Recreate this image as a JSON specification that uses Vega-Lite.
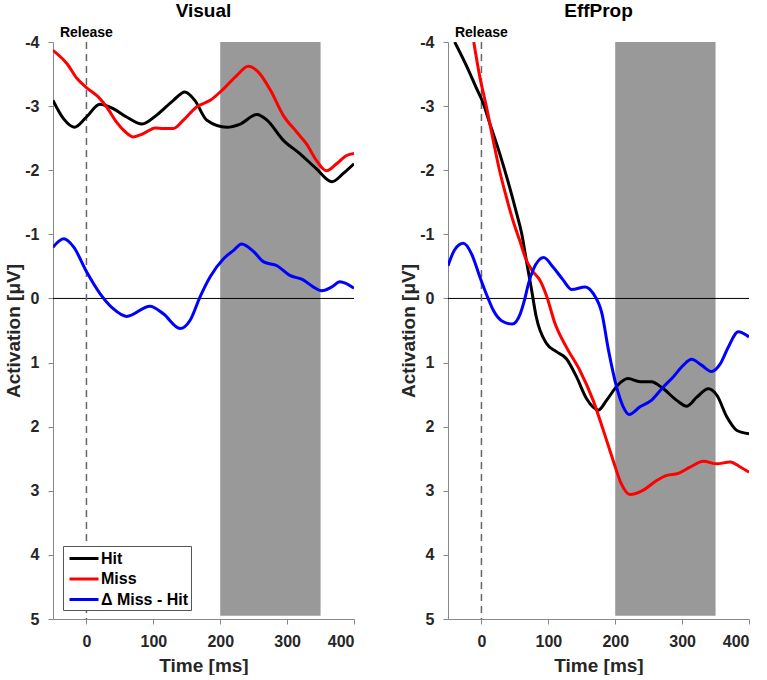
{
  "$schema": "https://vega.github.io/schema/vega-lite/v6.json",
  "background": "white",
  "padding": {"left": 4, "top": 2, "right": 5, "bottom": 0},
  "spacing": 94,
  "bounds": "flush",
  "resolve": {"scale": {"color": "independent"}, "legend": {"color": "independent"}},
  "config": {
    "font": "Liberation Sans",
    "view": {"stroke": null},
    "axis": {
      "labelFont": "Liberation Sans", "labelFontSize": 16, "labelFontWeight": "bold", "labelColor": "#262626",
      "titleFont": "Liberation Sans", "titleFontSize": 19, "titleFontWeight": "bold", "titleColor": "#262626",
      "domainColor": "#888888", "tickColor": "#888888", "tickSize": 5, "grid": false, "labelPadding": 9
    },
    "axisX": {"titlePadding": 7},
    "axisY": {"titlePadding": 1},
    "title": {"font": "Liberation Sans", "fontSize": 19, "fontWeight": "bold", "color": "#000000", "frame": "group", "anchor": "middle", "baseline": "alphabetic", "offset": 5}
  },
  "datasets": {
    "bands": [{"x1": 200, "x2": 350, "y1": -4, "y2": 4.95}],
    "curves": [
      {"panel": "Visual", "series": "Hit", "t": -50, "v": -3.09},
      {"panel": "Visual", "series": "Hit", "t": -34, "v": -2.80},
      {"panel": "Visual", "series": "Hit", "t": -18, "v": -2.67},
      {"panel": "Visual", "series": "Hit", "t": 0, "v": -2.83},
      {"panel": "Visual", "series": "Hit", "t": 20, "v": -3.03},
      {"panel": "Visual", "series": "Hit", "t": 40, "v": -2.96},
      {"panel": "Visual", "series": "Hit", "t": 60, "v": -2.83},
      {"panel": "Visual", "series": "Hit", "t": 83, "v": -2.72},
      {"panel": "Visual", "series": "Hit", "t": 105, "v": -2.86},
      {"panel": "Visual", "series": "Hit", "t": 130, "v": -3.09},
      {"panel": "Visual", "series": "Hit", "t": 147, "v": -3.22},
      {"panel": "Visual", "series": "Hit", "t": 162, "v": -3.09},
      {"panel": "Visual", "series": "Hit", "t": 180, "v": -2.78},
      {"panel": "Visual", "series": "Hit", "t": 210, "v": -2.67},
      {"panel": "Visual", "series": "Hit", "t": 230, "v": -2.72},
      {"panel": "Visual", "series": "Hit", "t": 255, "v": -2.87},
      {"panel": "Visual", "series": "Hit", "t": 270, "v": -2.78},
      {"panel": "Visual", "series": "Hit", "t": 294, "v": -2.47},
      {"panel": "Visual", "series": "Hit", "t": 319, "v": -2.26},
      {"panel": "Visual", "series": "Hit", "t": 344, "v": -2.02},
      {"panel": "Visual", "series": "Hit", "t": 367, "v": -1.82},
      {"panel": "Visual", "series": "Hit", "t": 384, "v": -1.95},
      {"panel": "Visual", "series": "Hit", "t": 400, "v": -2.10},
      {"panel": "Visual", "series": "Miss", "t": -50, "v": -3.87},
      {"panel": "Visual", "series": "Miss", "t": -29, "v": -3.66},
      {"panel": "Visual", "series": "Miss", "t": -14, "v": -3.43},
      {"panel": "Visual", "series": "Miss", "t": 0, "v": -3.29},
      {"panel": "Visual", "series": "Miss", "t": 18, "v": -3.14},
      {"panel": "Visual", "series": "Miss", "t": 30, "v": -2.99},
      {"panel": "Visual", "series": "Miss", "t": 45, "v": -2.75},
      {"panel": "Visual", "series": "Miss", "t": 58, "v": -2.60},
      {"panel": "Visual", "series": "Miss", "t": 70, "v": -2.52},
      {"panel": "Visual", "series": "Miss", "t": 85, "v": -2.57},
      {"panel": "Visual", "series": "Miss", "t": 103, "v": -2.66},
      {"panel": "Visual", "series": "Miss", "t": 115, "v": -2.65},
      {"panel": "Visual", "series": "Miss", "t": 130, "v": -2.65},
      {"panel": "Visual", "series": "Miss", "t": 145, "v": -2.78},
      {"panel": "Visual", "series": "Miss", "t": 165, "v": -2.99},
      {"panel": "Visual", "series": "Miss", "t": 185, "v": -3.09},
      {"panel": "Visual", "series": "Miss", "t": 205, "v": -3.27},
      {"panel": "Visual", "series": "Miss", "t": 225, "v": -3.48},
      {"panel": "Visual", "series": "Miss", "t": 242, "v": -3.62},
      {"panel": "Visual", "series": "Miss", "t": 257, "v": -3.53},
      {"panel": "Visual", "series": "Miss", "t": 275, "v": -3.25},
      {"panel": "Visual", "series": "Miss", "t": 294, "v": -2.86},
      {"panel": "Visual", "series": "Miss", "t": 314, "v": -2.60},
      {"panel": "Visual", "series": "Miss", "t": 329, "v": -2.41},
      {"panel": "Visual", "series": "Miss", "t": 344, "v": -2.15},
      {"panel": "Visual", "series": "Miss", "t": 359, "v": -1.99},
      {"panel": "Visual", "series": "Miss", "t": 374, "v": -2.10},
      {"panel": "Visual", "series": "Miss", "t": 389, "v": -2.23},
      {"panel": "Visual", "series": "Miss", "t": 400, "v": -2.26},
      {"panel": "Visual", "series": "Δ Miss - Hit", "t": -50, "v": -0.80},
      {"panel": "Visual", "series": "Δ Miss - Hit", "t": -34, "v": -0.93},
      {"panel": "Visual", "series": "Δ Miss - Hit", "t": -19, "v": -0.80},
      {"panel": "Visual", "series": "Δ Miss - Hit", "t": 0, "v": -0.42},
      {"panel": "Visual", "series": "Δ Miss - Hit", "t": 20, "v": -0.08},
      {"panel": "Visual", "series": "Δ Miss - Hit", "t": 40, "v": 0.16},
      {"panel": "Visual", "series": "Δ Miss - Hit", "t": 60, "v": 0.28},
      {"panel": "Visual", "series": "Δ Miss - Hit", "t": 95, "v": 0.12},
      {"panel": "Visual", "series": "Δ Miss - Hit", "t": 115, "v": 0.24},
      {"panel": "Visual", "series": "Δ Miss - Hit", "t": 140, "v": 0.47},
      {"panel": "Visual", "series": "Δ Miss - Hit", "t": 155, "v": 0.34},
      {"panel": "Visual", "series": "Δ Miss - Hit", "t": 170, "v": -0.03},
      {"panel": "Visual", "series": "Δ Miss - Hit", "t": 185, "v": -0.34},
      {"panel": "Visual", "series": "Δ Miss - Hit", "t": 205, "v": -0.62},
      {"panel": "Visual", "series": "Δ Miss - Hit", "t": 220, "v": -0.75},
      {"panel": "Visual", "series": "Δ Miss - Hit", "t": 232, "v": -0.85},
      {"panel": "Visual", "series": "Δ Miss - Hit", "t": 250, "v": -0.73},
      {"panel": "Visual", "series": "Δ Miss - Hit", "t": 265, "v": -0.57},
      {"panel": "Visual", "series": "Δ Miss - Hit", "t": 285, "v": -0.51},
      {"panel": "Visual", "series": "Δ Miss - Hit", "t": 304, "v": -0.36},
      {"panel": "Visual", "series": "Δ Miss - Hit", "t": 324, "v": -0.29},
      {"panel": "Visual", "series": "Δ Miss - Hit", "t": 339, "v": -0.18},
      {"panel": "Visual", "series": "Δ Miss - Hit", "t": 352, "v": -0.12},
      {"panel": "Visual", "series": "Δ Miss - Hit", "t": 367, "v": -0.18},
      {"panel": "Visual", "series": "Δ Miss - Hit", "t": 379, "v": -0.26},
      {"panel": "Visual", "series": "Δ Miss - Hit", "t": 400, "v": -0.16},
      {"panel": "EffProp", "series": "Hit", "t": -40, "v": -4.0},
      {"panel": "EffProp", "series": "Hit", "t": -22, "v": -3.62},
      {"panel": "EffProp", "series": "Hit", "t": -7.5, "v": -3.28},
      {"panel": "EffProp", "series": "Hit", "t": 2.5, "v": -3.05},
      {"panel": "EffProp", "series": "Hit", "t": 12.5, "v": -2.73},
      {"panel": "EffProp", "series": "Hit", "t": 27, "v": -2.27},
      {"panel": "EffProp", "series": "Hit", "t": 42, "v": -1.74},
      {"panel": "EffProp", "series": "Hit", "t": 52, "v": -1.35},
      {"panel": "EffProp", "series": "Hit", "t": 60, "v": -1.02},
      {"panel": "EffProp", "series": "Hit", "t": 67, "v": -0.60},
      {"panel": "EffProp", "series": "Hit", "t": 75, "v": -0.13},
      {"panel": "EffProp", "series": "Hit", "t": 82, "v": 0.29},
      {"panel": "EffProp", "series": "Hit", "t": 97, "v": 0.70},
      {"panel": "EffProp", "series": "Hit", "t": 112, "v": 0.83},
      {"panel": "EffProp", "series": "Hit", "t": 127, "v": 0.94},
      {"panel": "EffProp", "series": "Hit", "t": 142, "v": 1.22},
      {"panel": "EffProp", "series": "Hit", "t": 157, "v": 1.56},
      {"panel": "EffProp", "series": "Hit", "t": 175, "v": 1.74},
      {"panel": "EffProp", "series": "Hit", "t": 187, "v": 1.59},
      {"panel": "EffProp", "series": "Hit", "t": 204, "v": 1.35},
      {"panel": "EffProp", "series": "Hit", "t": 219, "v": 1.25},
      {"panel": "EffProp", "series": "Hit", "t": 237, "v": 1.30},
      {"panel": "EffProp", "series": "Hit", "t": 254, "v": 1.30},
      {"panel": "EffProp", "series": "Hit", "t": 272, "v": 1.41},
      {"panel": "EffProp", "series": "Hit", "t": 292, "v": 1.59},
      {"panel": "EffProp", "series": "Hit", "t": 307, "v": 1.68},
      {"panel": "EffProp", "series": "Hit", "t": 322, "v": 1.54},
      {"panel": "EffProp", "series": "Hit", "t": 339, "v": 1.41},
      {"panel": "EffProp", "series": "Hit", "t": 352, "v": 1.51},
      {"panel": "EffProp", "series": "Hit", "t": 367, "v": 1.85},
      {"panel": "EffProp", "series": "Hit", "t": 382, "v": 2.06},
      {"panel": "EffProp", "series": "Hit", "t": 400, "v": 2.11},
      {"panel": "EffProp", "series": "Miss", "t": -11.5, "v": -4.0},
      {"panel": "EffProp", "series": "Miss", "t": -2.5, "v": -3.46},
      {"panel": "EffProp", "series": "Miss", "t": 7.5, "v": -2.99},
      {"panel": "EffProp", "series": "Miss", "t": 17.5, "v": -2.47},
      {"panel": "EffProp", "series": "Miss", "t": 27, "v": -2.0},
      {"panel": "EffProp", "series": "Miss", "t": 37, "v": -1.59},
      {"panel": "EffProp", "series": "Miss", "t": 47, "v": -1.22},
      {"panel": "EffProp", "series": "Miss", "t": 57, "v": -0.91},
      {"panel": "EffProp", "series": "Miss", "t": 67, "v": -0.60},
      {"panel": "EffProp", "series": "Miss", "t": 77, "v": -0.42},
      {"panel": "EffProp", "series": "Miss", "t": 87, "v": -0.29},
      {"panel": "EffProp", "series": "Miss", "t": 97, "v": -0.05},
      {"panel": "EffProp", "series": "Miss", "t": 110, "v": 0.39},
      {"panel": "EffProp", "series": "Miss", "t": 127, "v": 0.76},
      {"panel": "EffProp", "series": "Miss", "t": 147, "v": 1.12},
      {"panel": "EffProp", "series": "Miss", "t": 167, "v": 1.59},
      {"panel": "EffProp", "series": "Miss", "t": 182, "v": 2.05},
      {"panel": "EffProp", "series": "Miss", "t": 197, "v": 2.53},
      {"panel": "EffProp", "series": "Miss", "t": 209, "v": 2.89},
      {"panel": "EffProp", "series": "Miss", "t": 222, "v": 3.06},
      {"panel": "EffProp", "series": "Miss", "t": 242, "v": 2.99},
      {"panel": "EffProp", "series": "Miss", "t": 262, "v": 2.84},
      {"panel": "EffProp", "series": "Miss", "t": 277, "v": 2.76},
      {"panel": "EffProp", "series": "Miss", "t": 294, "v": 2.73},
      {"panel": "EffProp", "series": "Miss", "t": 312, "v": 2.63},
      {"panel": "EffProp", "series": "Miss", "t": 332, "v": 2.54},
      {"panel": "EffProp", "series": "Miss", "t": 352, "v": 2.58},
      {"panel": "EffProp", "series": "Miss", "t": 372, "v": 2.55},
      {"panel": "EffProp", "series": "Miss", "t": 387, "v": 2.63},
      {"panel": "EffProp", "series": "Miss", "t": 400, "v": 2.71},
      {"panel": "EffProp", "series": "Δ Miss - Hit", "t": -50, "v": -0.51},
      {"panel": "EffProp", "series": "Δ Miss - Hit", "t": -40, "v": -0.76},
      {"panel": "EffProp", "series": "Δ Miss - Hit", "t": -27, "v": -0.86},
      {"panel": "EffProp", "series": "Δ Miss - Hit", "t": -15, "v": -0.70},
      {"panel": "EffProp", "series": "Δ Miss - Hit", "t": -2.5, "v": -0.34},
      {"panel": "EffProp", "series": "Δ Miss - Hit", "t": 10, "v": 0.0},
      {"panel": "EffProp", "series": "Δ Miss - Hit", "t": 17.5, "v": 0.18},
      {"panel": "EffProp", "series": "Δ Miss - Hit", "t": 32, "v": 0.36},
      {"panel": "EffProp", "series": "Δ Miss - Hit", "t": 46, "v": 0.40},
      {"panel": "EffProp", "series": "Δ Miss - Hit", "t": 58, "v": 0.24},
      {"panel": "EffProp", "series": "Δ Miss - Hit", "t": 65, "v": 0.0},
      {"panel": "EffProp", "series": "Δ Miss - Hit", "t": 70, "v": -0.22},
      {"panel": "EffProp", "series": "Δ Miss - Hit", "t": 77, "v": -0.44},
      {"panel": "EffProp", "series": "Δ Miss - Hit", "t": 93, "v": -0.64},
      {"panel": "EffProp", "series": "Δ Miss - Hit", "t": 107, "v": -0.49},
      {"panel": "EffProp", "series": "Δ Miss - Hit", "t": 122, "v": -0.29},
      {"panel": "EffProp", "series": "Δ Miss - Hit", "t": 135, "v": -0.14},
      {"panel": "EffProp", "series": "Δ Miss - Hit", "t": 155, "v": -0.18},
      {"panel": "EffProp", "series": "Δ Miss - Hit", "t": 167, "v": -0.08},
      {"panel": "EffProp", "series": "Δ Miss - Hit", "t": 180, "v": 0.23},
      {"panel": "EffProp", "series": "Δ Miss - Hit", "t": 190, "v": 0.81},
      {"panel": "EffProp", "series": "Δ Miss - Hit", "t": 202, "v": 1.38},
      {"panel": "EffProp", "series": "Δ Miss - Hit", "t": 212, "v": 1.69},
      {"panel": "EffProp", "series": "Δ Miss - Hit", "t": 221, "v": 1.81},
      {"panel": "EffProp", "series": "Δ Miss - Hit", "t": 237, "v": 1.69},
      {"panel": "EffProp", "series": "Δ Miss - Hit", "t": 254, "v": 1.59},
      {"panel": "EffProp", "series": "Δ Miss - Hit", "t": 272, "v": 1.38},
      {"panel": "EffProp", "series": "Δ Miss - Hit", "t": 287, "v": 1.22},
      {"panel": "EffProp", "series": "Δ Miss - Hit", "t": 302, "v": 1.04},
      {"panel": "EffProp", "series": "Δ Miss - Hit", "t": 314, "v": 0.95},
      {"panel": "EffProp", "series": "Δ Miss - Hit", "t": 329, "v": 1.04},
      {"panel": "EffProp", "series": "Δ Miss - Hit", "t": 344, "v": 1.14},
      {"panel": "EffProp", "series": "Δ Miss - Hit", "t": 357, "v": 1.02},
      {"panel": "EffProp", "series": "Δ Miss - Hit", "t": 369, "v": 0.76},
      {"panel": "EffProp", "series": "Δ Miss - Hit", "t": 384, "v": 0.52},
      {"panel": "EffProp", "series": "Δ Miss - Hit", "t": 400, "v": 0.60}
    ]
  },
  "hconcat": [
    {
      "width": 301, "height": 577,
      "title": "Visual",
      "layer": [
        {"data": {"name": "bands"}, "mark": {"type": "rect", "color": "#999999"},
         "encoding": {
           "x": {"field": "x1", "type": "quantitative", "scale": {"domain": [-50, 400], "nice": false, "zero": false}, "axis": {"values": [0, 100, 200, 300, 400], "title": "Time [ms]"}},
           "x2": {"field": "x2"},
           "y": {"field": "y1", "type": "quantitative", "scale": {"domain": [-4, 5], "nice": false, "zero": false, "reverse": true}, "axis": {"values": [-4, -3, -2, -1, 0, 1, 2, 3, 4, 5], "labelExpr": "'' + datum.value", "title": "Activation [μV]"}},
           "y2": {"field": "y2"}}},
        {"data": {"values": [{}]}, "mark": {"type": "rule", "color": "#000000", "strokeWidth": 1}, "encoding": {"y": {"datum": 0, "type": "quantitative"}}},
        {"data": {"values": [{}]}, "mark": {"type": "rule", "color": "#666666", "strokeWidth": 1.5, "strokeDash": [7, 5]}, "encoding": {"x": {"datum": 0, "type": "quantitative"}}},
        {"data": {"name": "curves"}, "transform": [{"filter": "datum.panel === 'Visual'"}],
         "mark": {"type": "line", "interpolate": "monotone", "strokeWidth": 3, "clip": true},
         "encoding": {
           "x": {"field": "t", "type": "quantitative"},
           "y": {"field": "v", "type": "quantitative"},
           "color": {"field": "series", "type": "nominal",
             "scale": {"domain": ["Hit", "Miss", "Δ Miss - Hit"], "range": ["#000000", "#ff0000", "#0000ff"]},
             "legend": {"orient": "none", "legendX": 10, "legendY": 504, "title": null, "symbolType": "M-0.667,0H2.556", "symbolSize": 324, "symbolStrokeWidth": 3, "labelOffset": 15, "padding": 2, "rowPadding": 1.5, "labelFontSize": 16, "labelFontWeight": "bold", "labelFont": "Liberation Sans", "labelColor": "#000000", "strokeColor": "#555555", "fillColor": "#ffffff"}}}},
        {"data": {"values": [{}]}, "mark": {"type": "text", "text": "Release", "font": "Liberation Sans", "fontSize": 14, "fontWeight": "bold", "baseline": "alphabetic", "align": "center", "dy": -5, "color": "#000000"},
         "encoding": {"x": {"datum": 0, "type": "quantitative"}, "y": {"datum": -4, "type": "quantitative"}}}
      ]
    },
    {
      "width": 301, "height": 577,
      "title": "EffProp",
      "layer": [
        {"data": {"name": "bands"}, "mark": {"type": "rect", "color": "#999999"},
         "encoding": {
           "x": {"field": "x1", "type": "quantitative", "scale": {"domain": [-50, 400], "nice": false, "zero": false}, "axis": {"values": [0, 100, 200, 300, 400], "title": "Time [ms]"}},
           "x2": {"field": "x2"},
           "y": {"field": "y1", "type": "quantitative", "scale": {"domain": [-4, 5], "nice": false, "zero": false, "reverse": true}, "axis": {"values": [-4, -3, -2, -1, 0, 1, 2, 3, 4, 5], "labelExpr": "'' + datum.value", "title": "Activation [μV]"}},
           "y2": {"field": "y2"}}},
        {"data": {"values": [{}]}, "mark": {"type": "rule", "color": "#000000", "strokeWidth": 1}, "encoding": {"y": {"datum": 0, "type": "quantitative"}}},
        {"data": {"values": [{}]}, "mark": {"type": "rule", "color": "#666666", "strokeWidth": 1.5, "strokeDash": [7, 5]}, "encoding": {"x": {"datum": 0, "type": "quantitative"}}},
        {"data": {"name": "curves"}, "transform": [{"filter": "datum.panel === 'EffProp'"}],
         "mark": {"type": "line", "interpolate": "monotone", "strokeWidth": 3, "clip": true},
         "encoding": {
           "x": {"field": "t", "type": "quantitative"},
           "y": {"field": "v", "type": "quantitative"},
           "color": {"field": "series", "type": "nominal",
             "scale": {"domain": ["Hit", "Miss", "Δ Miss - Hit"], "range": ["#000000", "#ff0000", "#0000ff"]},
             "legend": null}}},
        {"data": {"values": [{}]}, "mark": {"type": "text", "text": "Release", "font": "Liberation Sans", "fontSize": 14, "fontWeight": "bold", "baseline": "alphabetic", "align": "center", "dy": -5, "color": "#000000"},
         "encoding": {"x": {"datum": 0, "type": "quantitative"}, "y": {"datum": -4, "type": "quantitative"}}}
      ]
    }
  ]
}
